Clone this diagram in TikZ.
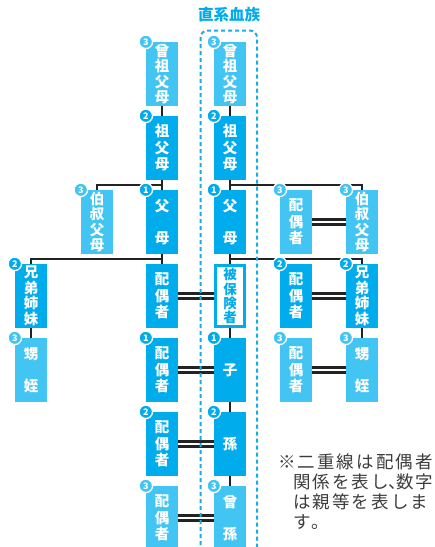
\documentclass[tikz,border=0pt]{standalone}
\usepackage{fontspec}
\newfontfamily\jp{Noto Sans CJK JP}
\newfontfamily\jpnote{Noto Sans CJK JP}[LetterSpace=12]
\usetikzlibrary{calc,backgrounds}
\definecolor{cdark}{RGB}{0,172,236}
\definecolor{clight}{RGB}{66,197,242}
\definecolor{cline}{RGB}{35,35,35}
\definecolor{cnote}{RGB}{60,60,60}
\definecolor{cframe}{RGB}{30,170,230}
\tikzset{
  box/.style={minimum width=32pt, minimum height=64pt, inner sep=0pt, text=white,
    align=center, font=\jp\bfseries\fontsize{14.5}{16.5}\selectfont},
  f4/.style={font=\jp\bfseries\fontsize{14.5}{15.5}\selectfont},
  f3/.style={font=\jp\bfseries\fontsize{14.5}{16.5}\selectfont},
  f2/.style={font=\jp\bfseries\fontsize{14.5}{32}\selectfont},
  me/.style={box, fill=white, draw=cdark, line width=3pt, minimum width=29pt,
    minimum height=61pt, text=cdark, font=\jp\bfseries\fontsize{13.5}{14.2}\selectfont},
  badge/.style={circle, draw=white, line width=1.3pt, inner sep=0pt, minimum size=13.5pt,
    text=white, font=\jp\bfseries\fontsize{9}{9}\selectfont},
  conn/.style={draw=cline, line width=1.8pt},
  spouse/.style={draw=cline, double=white, line width=2.2pt, double distance=2.8pt},
  head/.style={text=cdark, inner sep=0pt, font=\jp\bfseries\fontsize{15.5}{16}\selectfont},
  note/.style={anchor=base west, inner sep=0pt, text=cnote, font=\jpnote\fontsize{17.5}{20}\selectfont},
  frame/.style={draw=cframe, line width=2pt, dash pattern=on 4pt off 3pt, rounded corners=7pt},
}
% name, colour, extra style, x, row, text, degree
\newcommand\kbox[7]{%
  \node[box, fill=#2, #3] (#1) at (#4,{74*#5}) {#6};
  \if\relax\detokenize{#7}\relax\else
    \node[badge, fill=#2] (#1b) at (#1.north west) {#7};
  \fi}
\begin{document}
\begin{tikzpicture}[x=1pt,y=-1pt]
\useasboundingbox (0,0) rectangle (435,547);
\node[head] (head) at (229,15) {直系血族};

\kbox{A1}{clight}{f4}{162}{1}{曾\\祖\\父\\母}{3}
\kbox{B1}{clight}{f4}{230}{1}{曾\\祖\\父\\母}{3}
\kbox{A2}{cdark}{f3}{162}{2}{祖\\父\\母}{2}
\kbox{B2}{cdark}{f3}{230}{2}{祖\\父\\母}{2}
\kbox{A3}{cdark}{f2}{162}{3}{父\\母}{1}
\kbox{B3}{cdark}{f2}{230}{3}{父\\母}{1}
\kbox{L2}{clight}{f4}{97}{3}{伯\\叔\\父\\母}{3}
\kbox{C3}{clight}{f3}{296}{3}{配\\偶\\者}{3}
\kbox{D3}{clight}{f4}{362}{3}{伯\\叔\\父\\母}{3}
\kbox{L1}{cdark}{f4}{31}{4}{兄\\弟\\姉\\妹}{2}
\kbox{A4}{cdark}{f3}{162}{4}{配\\偶\\者}{}
\node[me] (B4) at (230,296) {被\\保\\険\\者};
\kbox{C4}{cdark}{f3}{296}{4}{配\\偶\\者}{2}
\kbox{D4}{cdark}{f4}{362}{4}{兄\\弟\\姉\\妹}{2}
\kbox{N1}{clight}{f2}{31}{5}{甥\\姪}{3}
\kbox{A5}{cdark}{f3}{162}{5}{配\\偶\\者}{1}
\kbox{B5}{cdark}{}{230}{5}{子}{1}
\kbox{C5}{clight}{f3}{296}{5}{配\\偶\\者}{3}
\kbox{D5}{clight}{f2}{362}{5}{甥\\姪}{3}
\kbox{A6}{cdark}{f3}{162}{6}{配\\偶\\者}{2}
\kbox{B6}{cdark}{}{230}{6}{孫}{2}
\kbox{A7}{clight}{f3}{162}{7}{配\\偶\\者}{3}
\kbox{B7}{clight}{f2}{230}{7}{曾\\孫}{3}

\begin{scope}[on background layer]
  \fill[white] (0,0) rectangle (435,547);
  \draw[conn] (A1.south) -- (A2.north);
  \draw[conn] (A2.south) -- (A3.north);
  \draw[conn] (L2.north) |- ($(A2.south)!.5!(A3.north)$);
  \draw[conn] (A3.south) -- (A4.north);
  \draw[conn] (L1.north) |- ($(A3.south)!.5!(A4.north)$);
  \draw[conn] (L1.south) -- (N1.north);
  \draw[conn] (B1.south) -- (B2.north);
  \draw[conn] (B2.south) -- (B3.north);
  \draw[conn] (D3.north) |- ($(B2.south)!.5!(B3.north)$);
  \draw[conn] (B3.south) -- (B4.north);
  \draw[conn] (D4.north) |- ($(B3.south)!.5!(B4.north)$);
  \draw[conn] (D4.south) -- (D5.north);
  \draw[conn] (B4.south) -- (B5.north);
  \draw[conn] (B5.south) -- (B6.north);
  \draw[conn] (B6.south) -- (B7.north);
  \draw[spouse] (A4.east) -- (B4.west);
  \draw[spouse] (C3.east) -- (D3.west);
  \draw[spouse] (C4.east) -- (D4.west);
  \draw[spouse] (A5.east) -- (B5.west);
  \draw[spouse] (C5.east) -- (D5.west);
  \draw[spouse] (A6.east) -- (B6.west);
  \draw[spouse] (A7.east) -- (B7.west);
\end{scope}

\draw[frame] (200.5,552) |- (257,30.5) -- (257,552);

\node[note] (n1) at (278,468.5) {※二重線は配偶者};
\node[note] (n2) at (293,488.5) {関係を表し\kern-1pt{\jp\fontsize{17.5}{20}\selectfont 、}\kern-9.5pt 数字};
\node[note] (n3) at (293,508.5) {は親等を表しま};
\node[note] (n4) at (293,528.5) {す。};
\end{tikzpicture}
\end{document}
